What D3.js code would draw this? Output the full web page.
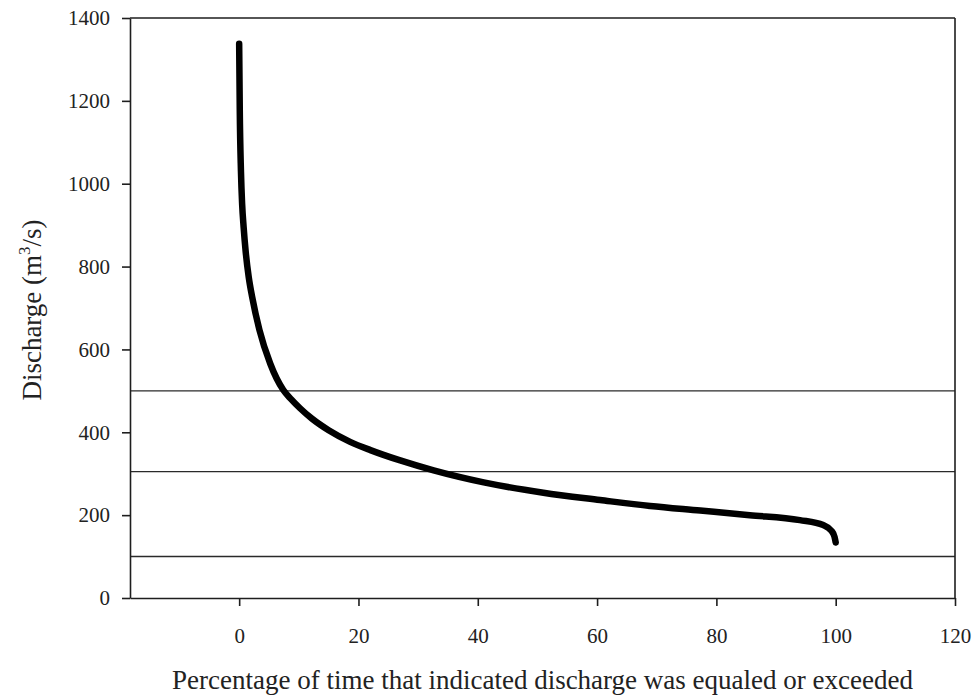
<!DOCTYPE html>
<html>
<head>
<meta charset="utf-8">
<script src="https://cdn.jsdelivr.net/npm/d3@7"></script>
<style>
  html, body { margin: 0; padding: 0; background: #fff; }
  svg { display: block; }
</style>
</head>
<body>
<svg id="chart" width="978" height="698"></svg>
<script>
// Flow duration curve: percentage of time exceeded vs discharge (m³/s)
const flowPct = [0, 0.1, 0.3, 0.5, 0.75, 1.1, 1.6, 2.2, 3.4, 5.2, 7.4, 8.7, 10.2, 12.2, 15, 18.6, 22, 27, 32.6, 41, 51, 60.5, 68.9, 77.3, 85.6, 94, 97.9, 99.3, 99.8, 100];
const flowQ   = [1338, 1180, 1030, 950, 895, 835, 775, 725, 647, 566, 502, 480, 458, 433, 405, 377, 357, 332, 308, 279, 254, 236.5, 222, 211, 200, 188, 176, 162, 148, 134];

// Horizontal reference discharge levels
const refLevels = [500, 305, 100];

const xTicks = [0, 20, 40, 60, 80, 100, 120];
const yTicks = [0, 200, 400, 600, 800, 1000, 1200, 1400];

const xLabel = "Percentage of time that indicated discharge was equaled or exceeded";

const W = 978, H = 698;
const margin = { left: 130, right: 23, top: 18, bottom: 100 };
const serif = "'Liberation Serif', 'Times New Roman', 'DejaVu Serif', serif";

const svg = d3.select("#chart");

const x = d3.scaleLinear().domain([-18.3, 120]).range([margin.left, W - margin.right]);
const y = d3.scaleLinear().domain([0, 1400]).range([H - margin.bottom, margin.top]);

const axisColor = "#1e1e1e";

// reference lines
svg.append("g")
  .selectAll("line")
  .data(refLevels)
  .join("line")
  .attr("x1", x.range()[0])
  .attr("x2", x.range()[1])
  .attr("y1", d => y(d))
  .attr("y2", d => y(d))
  .attr("stroke", "#2a2a2a")
  .attr("stroke-width", 1.4);

// flow duration curve
const pts = flowPct.map((p, i) => [p, flowQ[i]]);
svg.append("path")
  .datum(pts)
  .attr("fill", "none")
  .attr("stroke", "#000")
  .attr("stroke-width", 6.5)
  .attr("stroke-linecap", "round")
  .attr("stroke-linejoin", "round")
  .attr("d", d3.line().x(d => x(d[0])).y(d => y(d[1])).curve(d3.curveMonotoneX));

// frame: top and right borders
svg.append("line")
  .attr("x1", x.range()[0]).attr("x2", x.range()[1])
  .attr("y1", y(1400)).attr("y2", y(1400))
  .attr("stroke", axisColor).attr("stroke-width", 1.6);
svg.append("line")
  .attr("x1", x(120)).attr("x2", x(120))
  .attr("y1", y(0)).attr("y2", y(1400))
  .attr("stroke", axisColor).attr("stroke-width", 1.6);

// x axis
const gx = svg.append("g")
  .attr("transform", `translate(0,${y(0)})`)
  .call(d3.axisBottom(x).tickValues(xTicks).tickFormat(d3.format("d"))
    .tickSize(8).tickSizeOuter(0).tickPadding(22));
gx.attr("font-family", null);
gx.select(".domain").attr("stroke", axisColor).attr("stroke-width", 1.6);
gx.selectAll(".tick line").attr("stroke", axisColor).attr("stroke-width", 1.6);
gx.selectAll(".tick text")
  .style("font-family", serif)
  .style("font-size", "21px")
  .attr("fill", "#222");

// y axis
const gy = svg.append("g")
  .attr("transform", `translate(${x.range()[0]},0)`)
  .call(d3.axisLeft(y).tickValues(yTicks).tickFormat(d3.format("d"))
    .tickSize(8).tickSizeOuter(0).tickPadding(12));
gy.attr("font-family", null);
gy.select(".domain").attr("stroke", axisColor).attr("stroke-width", 1.6);
gy.selectAll(".tick line").attr("stroke", axisColor).attr("stroke-width", 1.6);
gy.selectAll(".tick text")
  .style("font-family", serif)
  .style("font-size", "21px")
  .attr("fill", "#222");

// x axis title
svg.append("text")
  .attr("x", (x.range()[0] + x.range()[1]) / 2)
  .attr("y", 689)
  .attr("text-anchor", "middle")
  .style("font-family", serif)
  .style("font-size", "27px")
  .attr("fill", "#222")
  .text(xLabel);

// y axis title with superscript
const yt = svg.append("text")
  .attr("transform", `translate(41,${(y(0) + y(1400)) / 2 + 2}) rotate(-90)`)
  .attr("text-anchor", "middle")
  .style("font-family", serif)
  .style("font-size", "27px")
  .attr("fill", "#222");
yt.append("tspan").text("Discharge (m");
yt.append("tspan").style("font-size", "17px").attr("dy", -11).text("3");
yt.append("tspan").attr("dy", 11).text("/s)");
</script>
</body>
</html>
